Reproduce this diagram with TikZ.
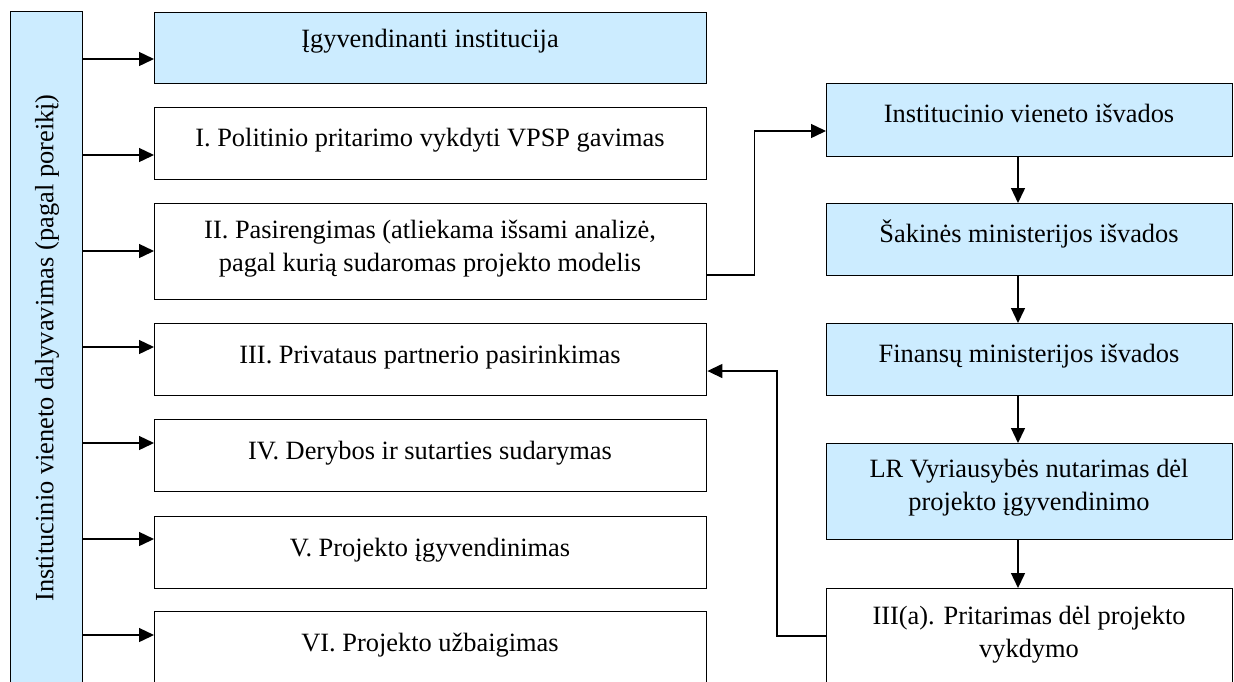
\documentclass[tikz,border=0pt]{standalone}
\usepackage{fontspec}
\setmainfont{Liberation Serif}
\usepackage{xcolor}
\usetikzlibrary{arrows.meta}

\definecolor{paleblue}{HTML}{CCECFF}

\tikzset{
  box/.style={draw, line width=0.7pt, inner sep=0pt, anchor=north west},
  shaded/.style={box, fill=paleblue},
  txt/.style={anchor=north, inner sep=0pt, align=center,
    font=\fontsize{13.2}{16.8}\selectfont, execute at begin node=\strut},
}

\begin{document}
\begin{tikzpicture}[x=0.5pt, y=-0.5pt, >={Triangle[length=7.5pt,width=7pt]}, line width=0.7pt]
  \useasboundingbox (0,0) rectangle (1234,681);

  % left column
  \node[shaded, minimum width=36pt, minimum height=344.5pt] (bar) at (10,11) {};
  \node[rotate=90, inner sep=0pt, font=\fontsize{13.2}{15}\selectfont] at (47,348)
    {Institucinio vieneto dalyvavimas (pagal poreikį)};

  \node[shaded, minimum width=276pt, minimum height=35.5pt] (igyv) at (154,12) {};
  \node[box, minimum width=276pt, minimum height=36pt] (pI) at (154,107) {};
  \node[box, minimum width=276pt, minimum height=48pt] (pII) at (154,203) {};
  \node[box, minimum width=276pt, minimum height=36pt] (pIII) at (154,323) {};
  \node[box, minimum width=276pt, minimum height=36pt] (pIV) at (154,419) {};
  \node[box, minimum width=276pt, minimum height=36pt] (pV) at (154,516) {};
  \node[box, minimum width=276pt, minimum height=44.5pt] (pVI) at (154,611) {};

  \node[txt] at (430,23) {Įgyvendinanti institucija};
  \node[txt] at (430,122) {I. Politinio pritarimo vykdyti VPSP gavimas};
  \node[txt] at (430,219) {II. Pasirengimas (atliekama išsami analizė,\\pagal kurią sudaromas projekto modelis};
  \node[txt] at (430,339) {III. Privataus partnerio pasirinkimas};
  \node[txt] at (430,435) {IV. Derybos ir sutarties sudarymas};
  \node[txt] at (430,532) {V. Projekto įgyvendinimas};
  \node[txt] at (430,627) {VI. Projekto užbaigimas};

  % right column
  \node[shaded, minimum width=203pt, minimum height=36.5pt] (inst) at (826,83) {};
  \node[shaded, minimum width=203pt, minimum height=36pt] (sak) at (826,203) {};
  \node[shaded, minimum width=203pt, minimum height=36pt] (fin) at (826,323) {};
  \node[shaded, minimum width=203pt, minimum height=48pt] (vyr) at (826,443) {};
  \node[box, minimum width=203pt, minimum height=56pt] (prit) at (826,588) {};

  \node[txt] at (1029,98) {Institucinio vieneto išvados};
  \node[txt] at (1029,218) {Šakinės ministerijos išvados};
  \node[txt] at (1029,338) {Finansų ministerijos išvados};
  \node[txt] at (1029,458) {LR Vyriausybės nutarimas dėl\\projekto įgyvendinimo};
  \node[txt] at (1029,605) {III(a). Pritarimas dėl projekto\\vykdymo};

  % arrows
  \foreach \n/\y in {igyv/59, pI/155, pII/251, pIII/347, pIV/443, pV/539, pVI/635}
    \draw[->] (bar.east |- 0,\y) -- (\n.west |- 0,\y);

  \draw[->] (pII.east |- 0,275) -- ++(47,0) |- (inst.west |- 0,131);
  \foreach \a/\b in {inst/sak, sak/fin, fin/vyr, vyr/prit}
    \draw[->] (\a.south -| 1018,0) -- (\b.north -| 1018,0);
  \draw[->] (prit.west |- 0,636) -- ++(-49,0) |- (pIII.east |- 0,371);
\end{tikzpicture}
\end{document}
